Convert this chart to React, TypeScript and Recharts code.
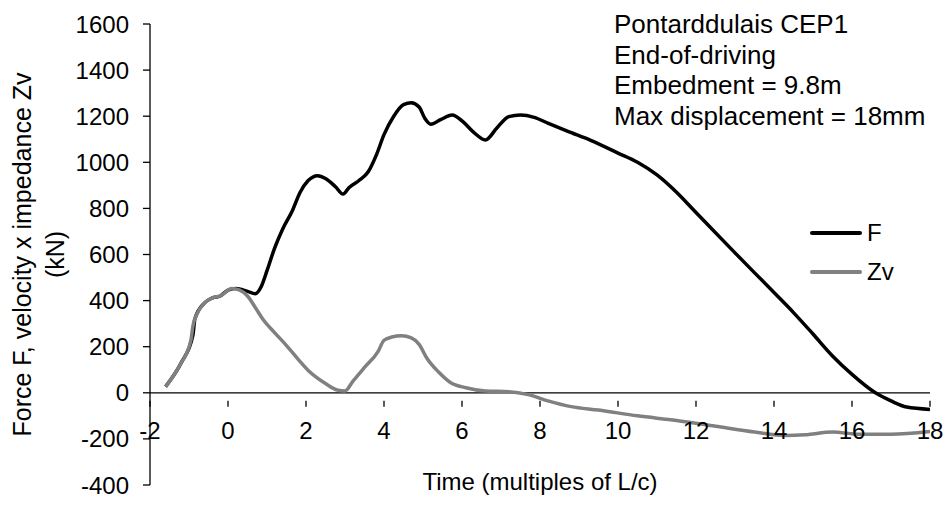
import React from "react"
import {
  LineChart,
  Line,
  XAxis,
  YAxis,
  ReferenceLine,
  Legend,
  Label,
} from "recharts"

// Time in multiples of L/c, force / Zv in kN
const fTime = [
  -1.6, -1.2, -0.9, -0.85, -0.6, -0.4, -0.2, 0.0, 0.2, 0.5, 0.7, 0.85, 1.0, 1.2, 1.4,
  1.65, 1.85, 2.05, 2.3, 2.5, 2.75, 2.95, 3.1, 3.35, 3.6, 3.8, 4.0, 4.25, 4.5, 4.7,
  4.9, 5.05, 5.2, 5.45, 5.75, 6.0, 6.3, 6.6, 6.9, 7.2, 7.5, 7.85, 8.2, 8.7, 9.3, 10.0,
  10.5, 11.0, 11.5, 12.0, 13.0, 14.0, 14.5, 15.0, 15.5, 16.0, 16.6, 17.0, 17.4, 18.0,
]
const fValues = [
  27, 130, 250, 320, 390, 412, 420, 445, 452, 440, 430, 460, 530, 630, 710,
  790, 870, 920, 942, 930, 895, 862, 890, 920, 960, 1030, 1120, 1200, 1250, 1258,
  1240, 1190, 1165, 1185, 1205, 1180, 1130, 1097, 1150, 1198, 1205, 1195, 1170, 1135, 1095, 1040,
  1000, 945, 870, 782, 607, 435, 348, 255, 160, 80, 0, -35, -62, -72,
]

const zvTime = [
  -1.6, -1.2, -0.95, -0.9, -0.8, -0.6, -0.4, -0.2, 0.1, 0.3, 0.5, 0.7, 0.9, 1.2, 1.5,
  1.8, 2.1, 2.5, 2.8, 3.0, 3.2, 3.5, 3.85, 4.0, 4.2, 4.45, 4.7, 4.9, 5.1, 5.4,
  5.7, 6.1, 6.6, 7.2, 7.7, 8.2, 8.8, 9.5, 10.5, 11.5, 12.5, 13.5, 14.3, 14.8, 15.5,
  16.2, 17.0, 18.0,
]
const zvValues = [
  27, 130, 230, 290, 340, 390, 412, 420, 452, 445, 420, 370, 318, 260, 205,
  145, 90, 40, 12, 8, 50, 110, 180, 228, 242, 247, 238, 210, 150, 90,
  45, 22, 8, 5, -8, -35, -60, -75, -100, -120, -145, -170, -185, -182, -170,
  -180, -180, -168,
]

const xTicks = [-2, 0, 2, 4, 6, 8, 10, 12, 14, 16, 18]
const yTicks = [-400, -200, 0, 200, 400, 600, 800, 1000, 1200, 1400, 1600]
const notes = [
  "Pontarddulais CEP1",
  "End-of-driving",
  "Embedment = 9.8m",
  "Max displacement = 18mm",
]

const fData = fTime.map((t, i) => ({ t, F: fValues[i] }))
const zvData = zvTime.map((t, i) => ({ t, Zv: zvValues[i] }))

const FONT = "'Liberation Sans', Arial, sans-serif"
const W = 947
const H = 526
const MARGIN = { top: 24, right: 17, bottom: 11, left: 0 }
const X_AXIS_H = 30
const PLOT_H = H - MARGIN.top - MARGIN.bottom - X_AXIS_H
const Y_MIN = -400
const Y_MAX = 1600
// the x axis sits on the zero line, not at the plot bottom
const ZERO_SHIFT = (PLOT_H * (0 - Y_MIN)) / (Y_MAX - Y_MIN)

function XTick(props: any) {
  const { x, y, payload } = props
  const y0 = y - ZERO_SHIFT
  return (
    <g>
      <line x1={x} y1={y0} x2={x} y2={y0 + 6} stroke="#000" strokeWidth={1.3} />
      <text
        x={x}
        y={y0 + 30}
        dy="0.355em"
        textAnchor="middle"
        fontSize={24}
        fontFamily={FONT}
        fill="#000"
      >
        {payload.value}
      </text>
    </g>
  )
}

function LegendBox({ payload }: any) {
  // F first, then Zv, as in the original key
  const items = [...(payload || [])].sort((a: any, b: any) => (a.value === "F" ? -1 : b.value === "F" ? 1 : 0))
  return (
    <div style={{ fontFamily: FONT, fontSize: 24, color: "#000" }}>
      {items.map((p: any) => (
        <div key={p.value} style={{ display: "flex", alignItems: "center", height: 39 }}>
          <span
            style={{ width: 52, height: 4, background: p.color, borderRadius: 2, marginRight: 5 }}
          />
          <span>{p.value}</span>
        </div>
      ))}
    </div>
  )
}

export default function App() {
  return (
    <div style={{ position: "absolute", left: 0, top: 0, width: W, height: H, background: "#fff" }}>
      <LineChart width={W} height={H} margin={MARGIN}>
        <XAxis
          dataKey="t"
          type="number"
          domain={[-2, 18]}
          ticks={xTicks}
          allowDataOverflow
          axisLine={false}
          tickLine={false}
          tick={<XTick />}
          height={X_AXIS_H}
          interval={0}
        >
          <Label
            content={({ viewBox }: any) => (
              <text
                x={viewBox.x + viewBox.width / 2}
                y={viewBox.y - 4}
                dy="0.355em"
                textAnchor="middle"
                fontSize={24}
                fontFamily={FONT}
                fill="#000"
              >
                Time (multiples of L/c)
              </text>
            )}
          />
        </XAxis>
        <YAxis
          type="number"
          domain={[Y_MIN, Y_MAX]}
          ticks={yTicks}
          width={150}
          interval={0}
          axisLine={{ stroke: "#000", strokeWidth: 1.3 }}
          tickLine={{ stroke: "#000", strokeWidth: 1.3 }}
          tickSize={7}
          tickMargin={14}
          tick={{ fill: "#000", fontSize: 24, fontFamily: FONT }}
        >
          <Label
            content={({ viewBox }: any) => {
              const cy = viewBox.y + viewBox.height / 2
              return (
                <g fontSize={25} fontFamily={FONT} fill="#000">
                  <text x={22} y={cy} dy="0.355em" textAnchor="middle" transform={`rotate(-90, 22, ${cy})`}>
                    Force F, velocity x impedance Zv
                  </text>
                  <text x={55} y={cy} dy="0.355em" textAnchor="middle" transform={`rotate(-90, 55, ${cy})`}>
                    (kN)
                  </text>
                </g>
              )
            }}
          />
        </YAxis>
        <ReferenceLine y={0} stroke="#000" strokeWidth={1.3} />
        <Legend
          layout="vertical"
          align="center"
          verticalAlign="middle"
          content={<LegendBox />}
          wrapperStyle={{ left: 810, top: 213, width: 120 }}
        />
        <Line
          data={fData}
          dataKey="F"
          name="F"
          type="monotone"
          stroke="#000"
          strokeWidth={3.5}
          dot={false}
          isAnimationActive={false}
          legendType="line"
        />
        <Line
          data={zvData}
          dataKey="Zv"
          name="Zv"
          type="monotone"
          stroke="#808080"
          strokeWidth={3.5}
          dot={false}
          isAnimationActive={false}
          legendType="line"
        />
      </LineChart>
      <div
        style={{
          position: "absolute",
          left: 614,
          top: 9,
          fontFamily: FONT,
          fontSize: 26,
          lineHeight: "30.7px",
          color: "#000",
          whiteSpace: "nowrap",
        }}
      >
        {notes.map((n) => (
          <div key={n}>{n}</div>
        ))}
      </div>
    </div>
  )
}
